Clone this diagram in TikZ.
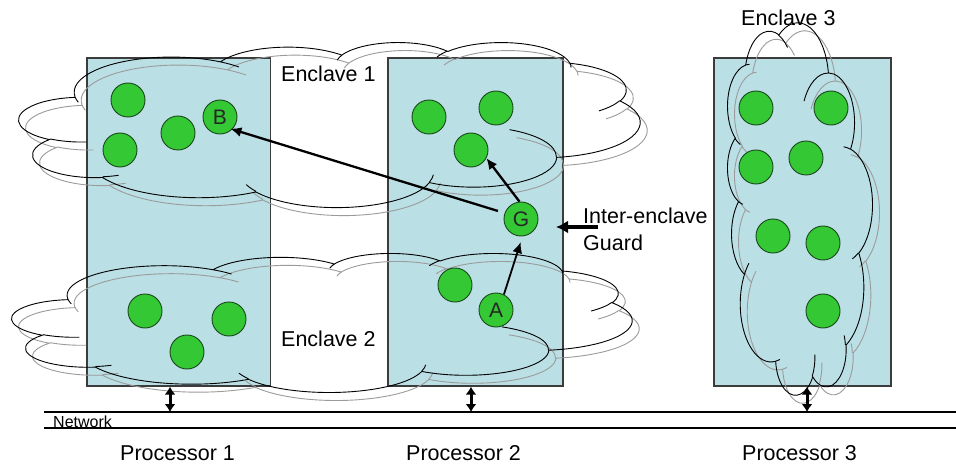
\documentclass[tikz,border=0pt]{standalone}
\usepackage{fontspec}
\setmainfont{Liberation Sans}
\usetikzlibrary{arrows.meta}

\definecolor{procfill}{RGB}{186,223,229}
\definecolor{procline}{RGB}{60,60,60}
\definecolor{dotfill}{RGB}{52,200,52}
\definecolor{dotline}{RGB}{25,70,25}
\definecolor{shadowgrey}{RGB}{155,155,155}

% Elliptical arc given as in a preset-shape path: radii, start angle and
% sweep measured as visual angles; converted to parametric angles here.
\newcommand\mkarc[5]{%
  \pgfmathsetmacro\arcS{atan2((#2)*sin(#4),(#3)*cos(#4))}%
  \pgfmathsetmacro\arcE{atan2((#2)*sin((#4)+(#5)),(#3)*cos((#4)+(#5)))}%
  \pgfmathsetmacro\arcD{mod((\arcE)-(\arcS)+720,360)}%
  \xdef#1{arc[x radius=#2,y radius=#3,start angle=\arcS,delta angle=\arcD]}%
}
% outline of the cloud, in a 100 x 100 box (y downwards)
\mkarc\CAa{15.632}{21.273}{-190.4875}{123.7805}
\mkarc\CAb{12.345}{16.822}{-144.1024}{89.9452}
\mkarc\CAc{10.104}{13.762}{-145.8079}{99.7230}
\mkarc\CAd{11.243}{15.266}{-130.9861}{117.2417}
\mkarc\CAe{12.345}{16.836}{-78.7089}{109.0269}
\mkarc\CAf{15.683}{21.343}{-46.2673}{130.2690}
\mkarc\CAg{13.391}{18.211}{0.6250}{114.0333}
\mkarc\CAh{15.630}{21.331}{22.4516}{115.1726}
\mkarc\CAi{17.870}{24.405}{66.2426}{75.7110}
\mkarc\CAj{10.093}{13.699}{-274.9421}{146.7356}
\mkarc\CAk{10.058}{13.762}{-246.8285}{152.5189}
% inner folds of the cloud
\mkarc\CIa{10.058}{13.762}{86.7420}{26.4295}
\mkarc\CIb{10.093}{13.699}{73.6105}{11.4475}
\mkarc\CIc{15.630}{21.331}{137.6242}{14.0811}
\mkarc\CId{15.630}{21.331}{6.4533}{15.9984}
\mkarc\CIe{13.391}{18.211}{-70.2924}{70.9174}
\mkarc\CIf{12.345}{16.836}{30.3180}{27.7515}
\mkarc\CIg{11.243}{15.266}{-13.7443}{14.8589}
\mkarc\CIh{11.243}{15.266}{-149.1815}{18.1954}
\mkarc\CIi{10.104}{13.762}{-163.4943}{17.6864}
\mkarc\CIj{15.632}{21.273}{-66.7070}{12.3194}
\mkarc\CIk{15.632}{21.273}{157.6544}{11.8582}

\newcommand\cloudshape{%
  (9.028,33.264) \CAa \CAb \CAc \CAd \CAe \CAf \CAg \CAh \CAi \CAj \CAk -- cycle
  (10.863,60.595) \CIa (16.037,80.785) \CIb (38.144,90.486) \CIc
  (66.729,80.442) \CId (79.002,53.134) \CIe (96.755,35.542) \CIf
  (88.713,12.560) \CIg (67.310,9.148) \CIh (51.252,10.926) \CIi
  (32.407,12.019) \CIj (9.553,36.549) \CIk}

% cloud with its grey drop shadow; #1 places and sizes the 100 x 100 box
\newcommand\enclavecloud[1]{%
  \begin{scope}[#1, xshift=7pt, yshift=-8pt]
    \draw[shadowgrey, line width=0.9pt] \cloudshape;
  \end{scope}
  \begin{scope}[#1]
    \draw[black, line width=0.9pt] \cloudshape;
  \end{scope}}

\begin{document}
\begin{tikzpicture}[x=1pt, y=-1pt,
  proc/.style={draw=procline, fill=procfill, line width=1.3pt,
    minimum width=#1, minimum height=328pt, inner sep=0pt},
  dot/.style={circle, draw=dotline, fill=dotfill, line width=0.9pt,
    minimum size=34pt, inner sep=0pt, text=black!85,
    font=\fontsize{21}{21}\selectfont},
  lbl/.style={anchor=base west, inner sep=0pt,
    font=\fontsize{21.5}{24}\selectfont},
  flow/.style={-{Latex[length=11pt,width=10pt]}, line width=2.3pt},
  link/.style={{Latex[length=8pt,width=11pt]}-{Latex[length=8pt,width=11pt]},
    line width=3pt},
  wire/.style={line width=1.2pt}]

\fill[white] (0,0) rectangle (956,468);
\useasboundingbox (0,0) rectangle (956,468);

% processors
\node[proc=183.5pt] (P1) at (178.75,222) {};
\node[proc=175pt]   (P2) at (475.5,222) {};
\node[proc=177pt]   (P3) at (802.5,222) {};

% enclaves
\enclavecloud{xshift=19pt, yshift=-42pt, x=6.21pt, y=-1.65pt}
\enclavecloud{xshift=12pt, yshift=-253pt, x=6.20pt, y=-1.39pt}
\enclavecloud{xshift=727pt, yshift=-395pt, x={(0pt,3.72pt)}, y={(1.45pt,0pt)}}

% tasks in enclave 1
\node[dot] (c1) at (128,100) {};
\node[dot] (c2) at (120,150) {};
\node[dot] (c3) at (178,133) {};
\node[dot] (B)  at (220,117) {B};
\node[dot] (c4) at (429,117) {};
\node[dot] (c5) at (496,108) {};
\node[dot] (c6) at (471,150) {};
\node[dot] (G)  at (521,219) {G};
% tasks in enclave 2
\node[dot] (c7) at (455,285) {};
\node[dot] (A)  at (496,310) {A};
\node[dot] (c8) at (145,311) {};
\node[dot] (c9) at (229,319) {};
\node[dot] (c10) at (187,352) {};
% tasks in enclave 3
\node[dot] (c11) at (756,108) {};
\node[dot] (c12) at (831,108) {};
\node[dot] (c13) at (756,167) {};
\node[dot] (c14) at (806,158) {};
\node[dot] (c15) at (773,236) {};
\node[dot] (c16) at (823,243) {};
\node[dot] (c17) at (823,311) {};

% flows through the guard
\draw[flow, shorten <=7pt, shorten >=-2pt] (G.160) -- (B.-45);
\draw[flow] (G.95) -- (c6.-28);
\draw[flow, line width=1.8pt, shorten >=6pt] (A.63) -- (G.-85);

% guard pointer
\coordinate (gtail) at (598,227);
\coordinate (gtip) at (556,227);
\draw[-{Latex[length=12pt,width=13pt]}, line width=3.4pt] (gtail) -- (gtip);

% network
\coordinate (netA) at (44,412);
\coordinate (netB) at (956,412);
\coordinate (netC) at (44,428);
\coordinate (netD) at (956,428);
\draw[wire] (netA) -- (netB);
\draw[wire] (netC) -- (netD);
\coordinate (n1) at (170,412);
\coordinate (n2) at (471,412);
\coordinate (n3) at (807,412);
\draw[link] (n1 |- P1.south) -- (n1);
\draw[link] (n2 |- P2.south) -- (n2);
\draw[link] (n3 |- P3.south) -- (n3);

% labels
\node[lbl] (t1) at (281,82) {Enclave 1};
\node[lbl] (t2) at (281,346) {Enclave 2};
\node[lbl] (t3) at (741,26) {Enclave 3};
\node[lbl] (t4) at (583,223) {Inter-enclave};
\node[lbl] (t5) at (583,250) {Guard};
\node[lbl] (t6) at (120,460) {Processor 1};
\node[lbl] (t7) at (406,460) {Processor 2};
\node[lbl] (t8) at (742,460) {Processor 3};
\node[anchor=base west, inner sep=0pt, font=\fontsize{16}{18}\selectfont]
  (t9) at (53,427) {Network};
\end{tikzpicture}
\end{document}
